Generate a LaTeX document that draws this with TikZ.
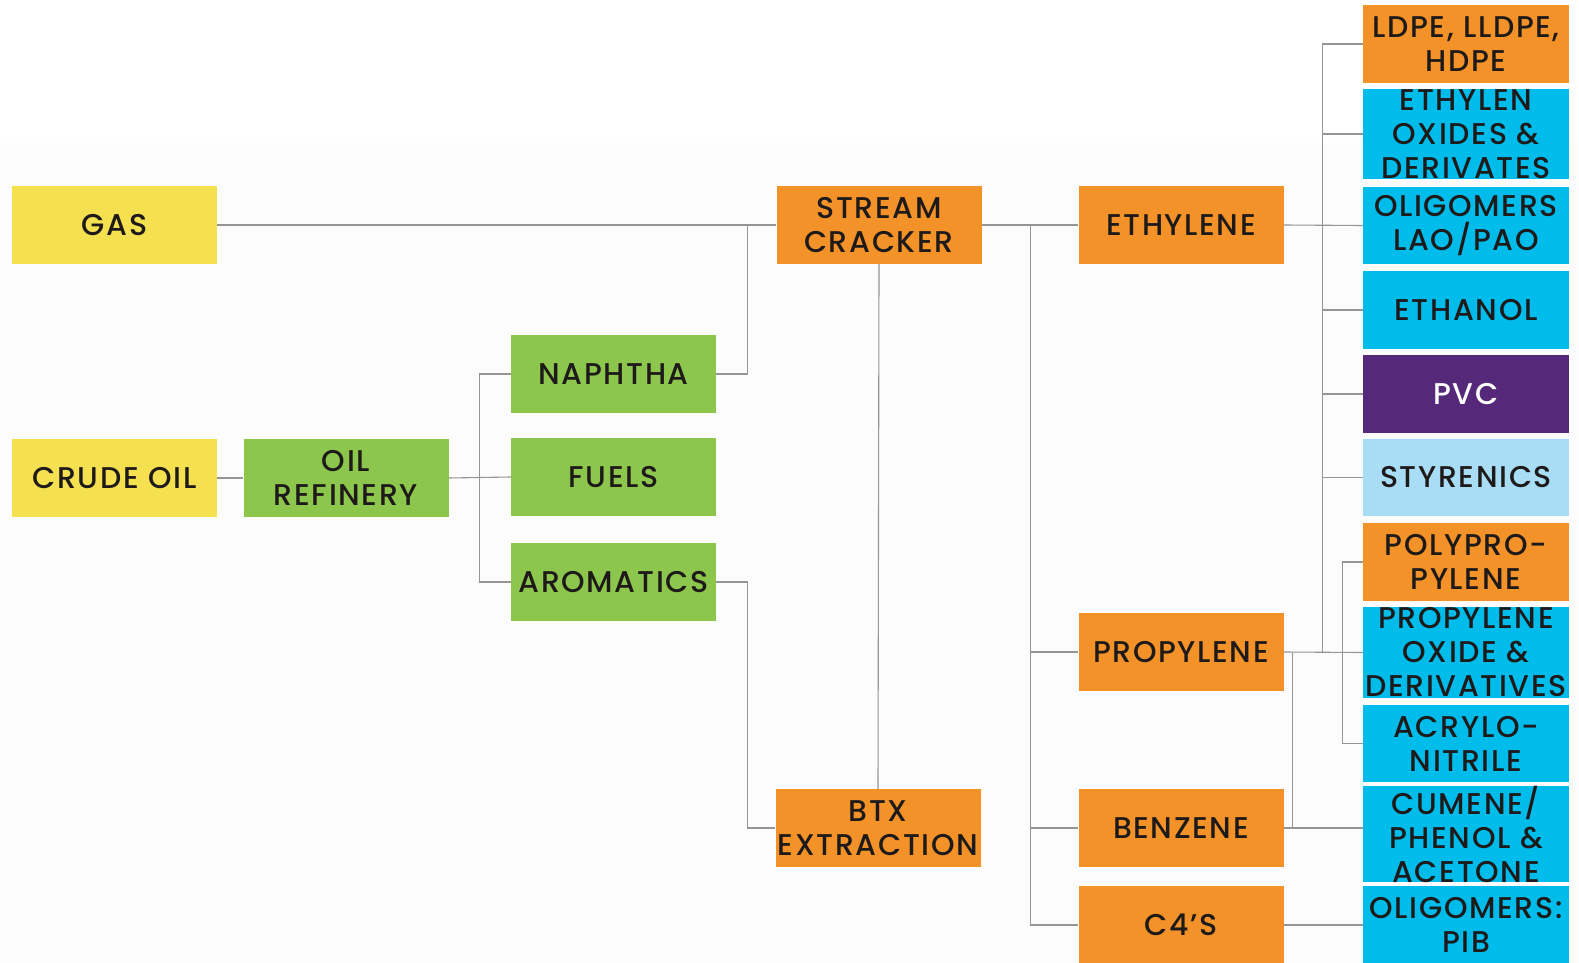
\documentclass[tikz,border=0pt]{standalone}
\usepackage{fontspec}
\setmainfont{Poppins}[UprightFont={* Medium}, LetterSpace=5.5]
\definecolor{cyel}{HTML}{F5E050}
\definecolor{cgrn}{HTML}{8DC64C}
\definecolor{corg}{HTML}{F39229}
\definecolor{ccyn}{HTML}{00BCEB}
\definecolor{cpur}{HTML}{56287A}
\definecolor{clbl}{HTML}{A9DDF5}
\definecolor{ctxt}{HTML}{1E1A1A}
\definecolor{cline}{HTML}{959595}
\definecolor{cbg}{HTML}{FCFCFC}
\tikzset{
  box/.style={inner sep=0pt, minimum width=205pt, minimum height=78pt, align=center,
    text=ctxt, font={\fontsize{30}{34}\selectfont}},
  conn/.style={draw=cline, line width=1.1pt},
}
\begin{document}
\begin{tikzpicture}[x=1pt,y=-1pt]
\fill[cbg] (0,0) rectangle (1579,963);
\fill[white] (0,0) rectangle (1579,143);
\useasboundingbox (0,0) rectangle (1579,963);
% left
\node[box, fill=cyel] (gas) at (114.5,225) {GAS};
\node[box, fill=cyel] (crude) at (114.5,478) {CRUDE OIL};
\node[box, fill=cgrn] (refinery) at (346,478) {OIL\\REFINERY};
\node[box, fill=cgrn] (naphtha) at (613.5,374) {NAPHTHA};
\node[box, fill=cgrn] (fuels) at (613.5,477) {FUELS};
\node[box, fill=cgrn] (aromatics) at (613.5,582) {AROMATICS};
\node[box, fill=corg] (cracker) at (879,225) {STREAM\\CRACKER};
\node[box, fill=corg] (btx) at (878,828) {BTX\\EXTRACTION};
% middle
\node[box, fill=corg] (ethylene) at (1181,225) {ETHYLENE};
\node[box, fill=corg] (propylene) at (1181,652) {PROPYLENE};
\node[box, fill=corg] (benzene) at (1181,828) {BENZENE};
\node[box, fill=corg, minimum height=78pt] (c4) at (1181,925) {C4’S};
% right column
\node[box, fill=corg, minimum width=206pt] (ldpe) at (1466,44) {LDPE, LLDPE,\\HDPE};
\node[box, fill=ccyn, minimum width=206pt, minimum height=90pt] (eo) at (1466,134) {ETHYLEN\\OXIDES \&\\DERIVATES};
\node[box, fill=ccyn, minimum width=206pt, minimum height=77pt] (olig) at (1466,225.5) {OLIGOMERS\\LAO/PAO};
\node[box, fill=ccyn, minimum width=206pt] (ethanol) at (1466,310) {ETHANOL};
\node[box, fill=cpur, minimum width=206pt, text=white] (pvc) at (1466,394) {PVC};
\node[box, fill=clbl, minimum width=206pt, minimum height=77pt] (styr) at (1466,477.5) {STYRENICS};
\node[box, fill=corg, minimum width=206pt] (pp) at (1466,562) {POLYPRO-\\PYLENE};
\node[box, fill=ccyn, minimum width=206pt, minimum height=91pt] (po) at (1466,652.5) {PROPYLENE\\OXIDE \&\\DERIVATIVES};
\node[box, fill=ccyn, minimum width=206pt, minimum height=77pt] (acn) at (1466,743.5) {ACRYLO-\\NITRILE};
\node[box, fill=ccyn, minimum width=206pt, minimum height=90pt] (cumene) at (1466,834) {CUMENE/\\PHENOL \&\\ACETONE};
\node[box, fill=ccyn, minimum width=206pt] (pib) at (1466,925) {OLIGOMERS:\\PIB};
% connectors
\draw[conn] (gas.east) -- (cracker.west);
\draw[conn] (crude.east) -- (refinery.west);
\draw[conn] (refinery.east) -- (fuels.west);
\draw[conn] (refinery.east) ++(31,0) coordinate (rb);
\draw[conn] (naphtha.west) -- (naphtha.west -| rb) -- (aromatics.west -| rb) -- (aromatics.west);
\draw[conn] (naphtha.east) -- ++(31,0) |- (cracker.west);
\draw[conn] (aromatics.east) -- ++(31,0) |- (btx.west);
\draw[conn] (cracker.south) -- (btx.north);
\draw[conn] (cracker.east) -- (ethylene.west);
\draw[conn] (cracker.east) ++(49,0) coordinate (cb);
\draw[conn] (cb) |- (c4.west);
\draw[conn] (cb) |- (propylene.west);
\draw[conn] (cb) |- (benzene.west);
% ethylene bus
\draw[conn] (ethylene.east) -- (olig.west);
\draw[conn] (ldpe.west) -- ++(-40,0) coordinate (eb) -- (eb |- propylene.east);
\foreach \n in {eo,ethanol,pvc,styr} \draw[conn] (eb |- \n.west) -- (\n.west);
% propylene
\draw[conn] (propylene.east) -- (po.west);
\draw[conn] (pp.west) -- ++(-20,0) |- (acn.west);
\draw[conn] (propylene.east) ++(9,0) coordinate (pb);
\draw[conn] (pb) -- (pb |- benzene.east);
\draw[conn] (benzene.east) -- (benzene.east -| cumene.west);
\draw[conn] (c4.east) -- (pib.west);
\end{tikzpicture}
\end{document}
